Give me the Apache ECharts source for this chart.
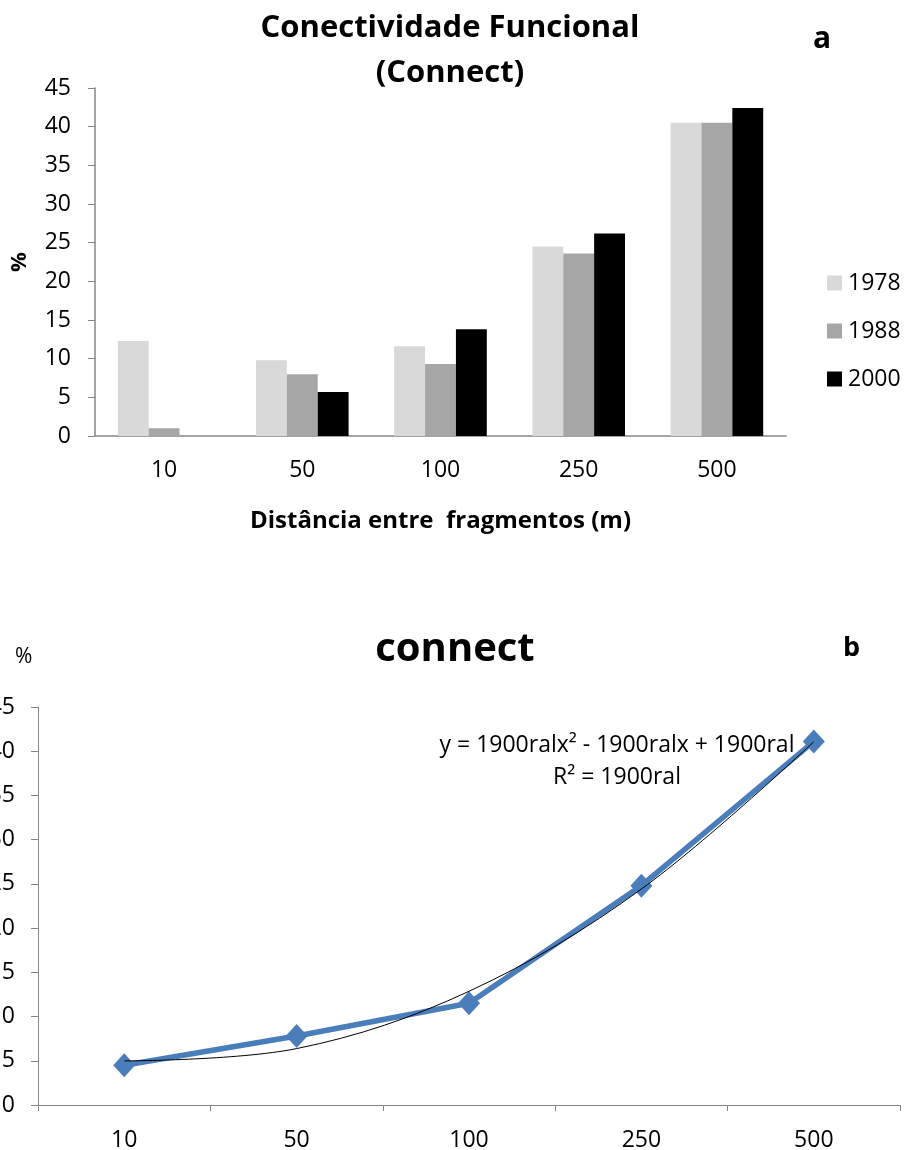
<!DOCTYPE html>
<html>
<head>
<meta charset="utf-8">
<script src="https://cdn.jsdelivr.net/npm/echarts@6/dist/echarts.min.js"></script>
<style>
html,body{margin:0;padding:0;background:#fff;}
#chart{width:905px;height:1150px;}
</style>
</head>
<body>
<div id="chart"></div>
<script>
// ---- Data (panel a) ----
const categoriesA = ['10', '50', '100', '250', '500'];
const seriesNamesA = ['1978', '1988', '2000'];
const values1978 = [12.3, 9.8, 11.6, 24.5, 40.5];
const values1988 = [1.0, 8.0, 9.3, 23.6, 40.5];
const values2000 = [0, 5.7, 13.8, 26.2, 42.4];
const yTicksA = [0, 45, 5]; // min, max, interval

// ---- Data (panel b) ----
const categoriesB = ['10', '50', '100', '250', '500'];
const valuesB = [4.5, 7.8, 11.5, 24.8, 41.1];
const yTicksB = [0, 45, 5];
const equationText = 'y = 1900ralx\u00B2 - 1900ralx + 1900ral';
const r2Text = 'R\u00B2 = 1900ral';

// Polynomial (order 2) trendline, least squares on category index (as in the spreadsheet)
function quadFit(ys) {
  const n = ys.length;
  const xs = ys.map((_, i) => i + 1);
  let S = [0,0,0,0,0], T = [0,0,0];
  for (let i = 0; i < n; i++) {
    const x = xs[i], y = ys[i];
    for (let k = 0; k < 5; k++) S[k] += Math.pow(x, k);
    for (let k = 0; k < 3; k++) T[k] += Math.pow(x, k) * y;
  }
  const M = [[S[0],S[1],S[2],T[0]],[S[1],S[2],S[3],T[1]],[S[2],S[3],S[4],T[2]]];
  for (let c = 0; c < 3; c++) {
    for (let r = c + 1; r < 3; r++) {
      const f = M[r][c] / M[c][c];
      for (let k = c; k < 4; k++) M[r][k] -= f * M[c][k];
    }
  }
  const coef = [0,0,0];
  for (let r = 2; r >= 0; r--) {
    let s = M[r][3];
    for (let k = r + 1; k < 3; k++) s -= M[r][k] * coef[k];
    coef[r] = s / M[r][r];
  }
  return xs.map(x => coef[0] + coef[1] * x + coef[2] * x * x);
}
const trendB = quadFit(valuesB);

const FONT = 'Open Sans';
const axisGrey = '#868686';

const chart = echarts.init(document.getElementById('chart'), null, {renderer: 'canvas'});
chart.setOption({
  animation: false,
  backgroundColor: '#ffffff',
  textStyle: {fontFamily: FONT},
  title: [
    {text: 'Conectividade Funcional\n(Connect)', left: 450, top: 6, padding: 0, textAlign: 'center',
     textStyle: {fontFamily: FONT, fontWeight: 'bold', fontSize: 31, lineHeight: 45, color: '#000'}},
    {text: 'a', left: 808, top: 19, textStyle: {fontFamily: FONT, fontWeight: 'bold', fontSize: 30, color: '#000'}},
    {text: 'connect', left: 450, top: 625, textAlign: 'center',
     textStyle: {fontFamily: FONT, fontWeight: 'bold', fontSize: 40, color: '#000'}},
    {text: 'b', left: 838, top: 630, textStyle: {fontFamily: FONT, fontWeight: 'bold', fontSize: 27, color: '#000'}},
    {text: '%', left: 10, top: 642, textStyle: {fontFamily: FONT, fontWeight: 'normal', fontSize: 21, color: '#000'}},
    {text: equationText + '\n' + r2Text, left: 612, top: 724, textAlign: 'center',
     textStyle: {fontFamily: FONT, fontWeight: 'normal', fontSize: 23, lineHeight: 32, color: '#000'}}
  ],
  legend: {
    data: seriesNamesA,
    orient: 'vertical',
    left: 822, top: 262,
    itemWidth: 15, itemHeight: 15, itemGap: 16,
    icon: 'rect',
    textStyle: {fontFamily: FONT, fontSize: 23, lineHeight: 32, color: '#000', padding: [0,0,0,1]}
  },
  grid: [
    {left: 95, right: 119, top: 88, height: 348, outerBoundsMode: 'none'},
    {left: 38, right: 5, top: 707, height: 398, outerBoundsMode: 'none'}
  ],
  xAxis: [
    {type: 'category', gridIndex: 0, data: categoriesA,
     axisLine: {lineStyle: {color: axisGrey, width: 1.5}},
     axisTick: {show: false},
     axisLabel: {color: '#000', fontSize: 23, margin: 23, fontFamily: FONT},
     name: 'Distância entre  fragmentos (m)', nameLocation: 'middle', nameGap: 73,
     nameTextStyle: {fontFamily: FONT, fontWeight: 'bold', fontSize: 24, color: '#000'}},
    {type: 'category', gridIndex: 1, data: categoriesB,
     axisLine: {lineStyle: {color: axisGrey, width: 1}},
     axisTick: {show: true, alignWithLabel: false, length: 6, lineStyle: {color: axisGrey}},
     axisLabel: {color: '#000', fontSize: 23, margin: 24, fontFamily: FONT}}
  ],
  yAxis: [
    {type: 'value', gridIndex: 0, min: yTicksA[0], max: yTicksA[1], interval: yTicksA[2],
     axisLine: {show: true, lineStyle: {color: axisGrey, width: 1.5}},
     axisTick: {show: true, length: 7, lineStyle: {color: axisGrey}},
     splitLine: {show: false},
     axisLabel: {color: '#000', fontSize: 23, margin: 24, fontFamily: FONT},
     name: '%', nameLocation: 'middle', nameGap: 64, nameRotate: 90,
     nameTextStyle: {fontFamily: FONT, fontWeight: 'bold', fontSize: 22, color: '#000'}},
    {type: 'value', gridIndex: 1, min: yTicksB[0], max: yTicksB[1], interval: yTicksB[2],
     axisLine: {show: true, lineStyle: {color: axisGrey, width: 1}},
     axisTick: {show: true, length: 7, lineStyle: {color: axisGrey}},
     splitLine: {show: false},
     axisLabel: {color: '#000', fontSize: 23, margin: 23, fontFamily: FONT}}
  ],
  series: [
    {name: seriesNamesA[0], type: 'bar', xAxisIndex: 0, yAxisIndex: 0, data: values1978,
     itemStyle: {color: '#d9d9d9'}, barGap: '0%', barCategoryGap: '33%'},
    {name: seriesNamesA[1], type: 'bar', xAxisIndex: 0, yAxisIndex: 0, data: values1988,
     itemStyle: {color: '#a6a6a6'}, barGap: '0%', barCategoryGap: '33%'},
    {name: seriesNamesA[2], type: 'bar', xAxisIndex: 0, yAxisIndex: 0, data: values2000,
     itemStyle: {color: '#000000'}, barGap: '0%', barCategoryGap: '33%'},
    {name: 'connect', type: 'line', xAxisIndex: 1, yAxisIndex: 1, data: valuesB,
     lineStyle: {color: '#4a7ebb', width: 5.5}, itemStyle: {color: '#4a7ebb'},
     symbol: 'diamond', symbolSize: [22, 24], z: 3},
    {name: 'trend', type: 'line', xAxisIndex: 1, yAxisIndex: 1, data: trendB,
     smooth: 0.35, symbol: 'none', lineStyle: {color: '#000', width: 1}, z: 4}
  ]
});
</script>
</body>
</html>
